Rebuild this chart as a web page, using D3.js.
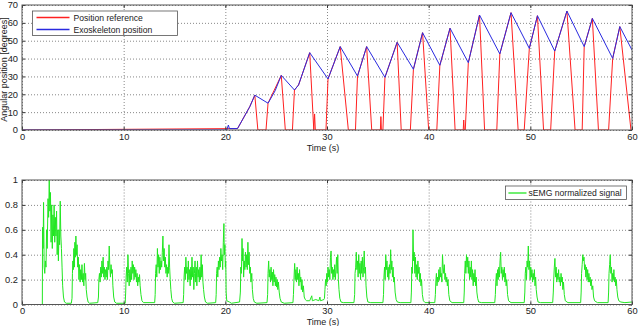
<!DOCTYPE html>
<html>
<head>
<meta charset="utf-8">
<script src="https://cdn.jsdelivr.net/npm/d3@7"></script>
<style>
  body { margin: 0; background: #fff; }
  text { font-family: "Liberation Sans", Arial, sans-serif; fill: #222; }
</style>
</head>
<body>
<svg id="chart" width="642" height="326"></svg>
<script>
// ---- data ----
const timeTicks = [0, 10, 20, 30, 40, 50, 60];
const angleTicks = [0, 10, 20, 30, 40, 50, 60, 70];
const emgTicks = [0, 0.2, 0.4, 0.6, 0.8, 1];

// position reference [time, degrees]
const refPosition = [[0,0],[21.2,0.8],[22.4,13],[22.9,19.5],[23.2,0],[24.0,0],[24.2,15],[25.5,30.6],[25.9,0],[26.6,0],[26.8,22.4],
  [27.2,25.2],[28.3,43.3],[28.7,0],[28.78,9],[28.85,0],[29.9,0],[30.1,28.6],[31.3,46.7],[32.1,0],[32.8,0],[33.0,30.2],[33.9,46.7],
  [34.4,0],[35.25,0],[35.3,7.5],[35.35,0],[35.5,0],[35.7,29.5],[36.9,49.1],[37.3,0],[38.2,0],[38.5,34],[39.4,54.5],[40.0,0],
  [40.8,0],[41.1,36.2],[42.1,57],[42.6,0],[43.4,0],[43.45,5.6],[43.5,0],[43.6,0],[43.9,37.7],[45.0,64.4],[45.5,0],[46.7,0],
  [47.0,42.6],[48.1,65.7],[48.8,0],[49.4,0],[49.9,45.7],[50.7,64],[51.3,0],[52.0,0],[52.4,44.2],[53.6,66.6],[54.4,0],[55.1,0],
  [55.3,46.7],[56.1,62.5],[56.7,0],[57.7,0],[58.1,40.1],[58.8,57.9],[59.9,0],[60,0]];

// exoskeleton position [time, degrees]
const exoPosition = [[0,0],[20.15,0],[20.3,2.8],[20.4,0.8],[21.2,0.8],[22.4,13],[22.9,19.5],[24.2,15],[24.9,22],[25.5,30.6],
  [26.8,22.4],[27.2,25.2],[28.3,43.3],[30.1,28.6],[31.3,46.7],[33.0,30.2],[33.9,46.7],[35.7,29.5],[36.9,49.1],[38.5,34],
  [39.4,54.5],[41.1,36.2],[42.1,57],[43.9,37.7],[45.0,64.4],[47.0,42.6],[48.1,65.7],[49.9,45.7],[50.7,64],[52.4,44.2],
  [53.6,66.6],[55.3,46.7],[56.1,62.5],[58.1,40.1],[58.8,57.9],[60,44.8]];

// sEMG normalized signal [time, value]
const emgSignal = [[0,0],[2.0,0],
  [2.02,0.62],[2.08,0.45],[2.12,0.82],[2.18,0.3],[2.24,0.25],[2.3,0.35],[2.36,0.3],[2.42,0.6],[2.48,0.45],[2.56,0.85],[2.62,0.7],
  [2.68,1.0],[2.74,0.75],[2.8,0.9],[2.86,0.5],[2.92,0.8],[2.98,0.45],[3.04,0.72],[3.1,0.55],[3.16,0.8],[3.22,0.5],[3.28,0.7],
  [3.34,0.55],[3.4,0.75],[3.46,0.4],[3.52,0.6],[3.58,0.35],[3.64,0.6],[3.7,0.48],[3.76,0.83],[3.82,0.55],[3.88,0.45],[3.94,0.3],
  [4.0,0.15],[4.08,0.06],[4.18,0.02],[4.35,0.01],
  [4.85,0.01],[4.92,0.05],[4.96,0.25],[5.0,0.35],[5.05,0.28],[5.1,0.45],[5.15,0.3],[5.2,0.5],[5.25,0.38],[5.3,0.55],[5.36,0.4],
  [5.42,0.48],[5.48,0.3],[5.54,0.38],[5.6,0.2],[5.66,0.32],[5.72,0.18],[5.78,0.28],[5.84,0.2],[5.9,0.32],[5.96,0.18],[6.02,0.25],
  [6.08,0.15],[6.14,0.33],[6.2,0.2],[6.26,0.25],[6.32,0.12],[6.4,0.06],[6.5,0.02],[6.65,0.01],
  [7.45,0.015],[7.52,0.06],[7.56,0.2],[7.62,0.25],[7.68,0.18],[7.74,0.3],[7.8,0.22],[7.86,0.35],[7.92,0.25],[7.98,0.38],[8.04,0.22],
  [8.1,0.3],[8.16,0.2],[8.22,0.28],[8.28,0.22],[8.34,0.3],[8.4,0.2],[8.46,0.35],[8.52,0.28],[8.58,0.47],[8.64,0.3],[8.7,0.22],
  [8.76,0.32],[8.82,0.25],[8.88,0.28],[8.94,0.15],[9.02,0.06],[9.12,0.02],[9.3,0.01],
  [10.15,0.01],[10.2,0.1],[10.24,0.22],[10.3,0.3],[10.36,0.18],[10.42,0.4],[10.48,0.25],[10.54,0.15],[10.6,0.28],[10.66,0.18],
  [10.72,0.3],[10.78,0.2],[10.84,0.35],[10.9,0.25],[10.96,0.32],[11.02,0.2],[11.08,0.3],[11.14,0.22],[11.2,0.28],[11.26,0.18],
  [11.32,0.25],[11.38,0.15],[11.44,0.22],[11.5,0.18],[11.56,0.24],[11.62,0.15],[11.7,0.08],[11.8,0.03],[11.95,0.015],
  [13.05,0.015],[13.1,0.08],[13.14,0.25],[13.2,0.32],[13.26,0.22],[13.32,0.45],[13.38,0.3],[13.44,0.4],[13.5,0.25],[13.56,0.38],
  [13.62,0.28],[13.68,0.35],[13.74,0.3],[13.8,0.42],[13.86,0.55],[13.92,0.35],[13.98,0.45],[14.04,0.3],[14.1,0.38],[14.16,0.25],
  [14.22,0.32],[14.28,0.22],[14.34,0.3],[14.4,0.25],[14.46,0.48],[14.52,0.3],[14.58,0.2],[14.64,0.12],[14.72,0.05],[14.82,0.02],[15.0,0.01],
  [15.85,0.015],[15.9,0.08],[15.94,0.22],[16.0,0.3],[16.06,0.2],[16.12,0.38],[16.18,0.25],[16.24,0.3],[16.3,0.18],[16.36,0.35],
  [16.42,0.2],[16.48,0.28],[16.54,0.15],[16.6,0.3],[16.66,0.2],[16.72,0.38],[16.78,0.22],[16.84,0.3],[16.9,0.12],[16.96,0.25],
  [17.02,0.35],[17.08,0.18],[17.14,0.3],[17.2,0.15],[17.26,0.35],[17.32,0.22],[17.38,0.28],[17.44,0.18],[17.5,0.3],[17.56,0.2],
  [17.62,0.4],[17.68,0.22],[17.74,0.32],[17.8,0.18],[17.86,0.12],[17.94,0.06],[18.05,0.02],[18.25,0.01],
  [19.05,0.015],[19.1,0.08],[19.14,0.25],[19.2,0.3],[19.26,0.22],[19.32,0.35],[19.38,0.28],[19.44,0.38],[19.5,0.3],[19.56,0.45],
  [19.62,0.35],[19.68,0.4],[19.74,0.28],[19.8,0.5],[19.86,0.65],[19.9,0.4],[19.96,0.48],[20.0,0.3],[20.04,0.35],[20.08,0.1],
  [20.14,0.03],[20.4,0.02],[20.6,0.01],
  [21.4,0.02],[21.48,0.1],[21.52,0.3],[21.58,0.25],[21.64,0.53],[21.7,0.35],[21.74,0.45],[21.8,0.22],[21.86,0.35],[21.92,0.28],
  [21.98,0.42],[22.04,0.3],[22.1,0.4],[22.16,0.28],[22.22,0.5],[22.28,0.32],[22.34,0.42],[22.4,0.25],[22.46,0.3],[22.52,0.18],
  [22.6,0.25],[22.66,0.12],[22.74,0.05],[22.85,0.02],[23.1,0.01],
  [24.1,0.015],[24.16,0.08],[24.2,0.25],[24.26,0.35],[24.32,0.22],[24.38,0.28],[24.44,0.18],[24.5,0.3],[24.56,0.2],[24.62,0.26],
  [24.68,0.15],[24.74,0.28],[24.8,0.18],[24.86,0.24],[24.92,0.15],[24.98,0.22],[25.04,0.14],[25.1,0.2],[25.16,0.12],[25.22,0.18],
  [25.3,0.1],[25.38,0.05],[25.5,0.02],[25.8,0.01],
  [26.65,0.015],[26.7,0.08],[26.76,0.22],[26.82,0.33],[26.88,0.2],[26.94,0.28],[27.0,0.18],[27.06,0.3],[27.12,0.2],[27.18,0.25],
  [27.24,0.15],[27.3,0.28],[27.36,0.18],[27.42,0.22],[27.48,0.12],[27.54,0.2],[27.6,0.1],[27.68,0.15],[27.76,0.06],[27.86,0.04],
  [28.0,0.03],[28.3,0.03],[28.5,0.07],[28.56,0.03],[28.9,0.04],[29.2,0.03],[29.3,0.06],[29.36,0.03],[29.7,0.04],
  [29.75,0.05],[29.8,0.12],[29.86,0.2],[29.92,0.15],[29.98,0.25],[30.04,0.18],[30.1,0.3],[30.16,0.22],[30.22,0.28],[30.28,0.2],
  [30.34,0.38],[30.4,0.43],[30.46,0.25],[30.52,0.3],[30.58,0.2],[30.64,0.28],[30.7,0.22],[30.76,0.32],[30.82,0.2],[30.88,0.28],
  [30.94,0.38],[31.0,0.25],[31.06,0.4],[31.12,0.2],[31.18,0.12],[31.26,0.05],[31.38,0.02],[31.6,0.015],
  [32.65,0.015],[32.72,0.08],[32.76,0.25],[32.82,0.3],[32.88,0.42],[32.94,0.28],[33.0,0.35],[33.06,0.22],[33.12,0.4],[33.18,0.25],
  [33.24,0.33],[33.3,0.2],[33.36,0.35],[33.42,0.25],[33.48,0.38],[33.54,0.22],[33.6,0.3],[33.66,0.43],[33.72,0.25],[33.78,0.3],
  [33.84,0.15],[33.92,0.06],[34.02,0.02],[34.3,0.015],
  [35.5,0.015],[35.56,0.08],[35.6,0.22],[35.66,0.3],[35.72,0.2],[35.78,0.4],[35.84,0.28],[35.9,0.35],[35.96,0.22],[36.02,0.3],
  [36.08,0.2],[36.14,0.32],[36.2,0.25],[36.26,0.44],[36.32,0.28],[36.38,0.35],[36.44,0.22],[36.5,0.3],[36.56,0.18],[36.62,0.22],
  [36.7,0.1],[36.8,0.04],[36.92,0.02],[37.2,0.015],
  [38.25,0.015],[38.3,0.1],[38.34,0.3],[38.4,0.25],[38.46,0.6],[38.52,0.35],[38.58,0.42],[38.64,0.25],[38.7,0.38],[38.76,0.22],
  [38.82,0.32],[38.88,0.2],[38.94,0.35],[39.0,0.25],[39.06,0.3],[39.12,0.18],[39.18,0.25],[39.24,0.15],[39.3,0.2],[39.38,0.08],
  [39.48,0.03],[39.65,0.015],
  [40.6,0.015],[40.66,0.08],[40.7,0.18],[40.76,0.25],[40.82,0.15],[40.88,0.22],[40.94,0.18],[41.0,0.28],[41.06,0.2],[41.12,0.3],
  [41.18,0.22],[41.24,0.25],[41.3,0.18],[41.36,0.4],[41.42,0.3],[41.48,0.25],[41.54,0.32],[41.6,0.2],[41.66,0.25],[41.72,0.18],
  [41.78,0.22],[41.84,0.15],[41.9,0.2],[41.98,0.08],[42.08,0.03],[42.3,0.015],
  [43.45,0.015],[43.5,0.1],[43.54,0.25],[43.6,0.35],[43.66,0.25],[43.72,0.4],[43.78,0.3],[43.84,0.38],[43.9,0.25],[43.96,0.35],
  [44.02,0.2],[44.08,0.3],[44.14,0.22],[44.2,0.35],[44.26,0.2],[44.32,0.28],[44.38,0.15],[44.44,0.25],[44.5,0.18],[44.56,0.28],
  [44.62,0.15],[44.68,0.22],[44.74,0.1],[44.82,0.05],[44.92,0.02],[45.2,0.015],
  [46.5,0.015],[46.56,0.08],[46.6,0.18],[46.66,0.25],[46.72,0.15],[46.78,0.28],[46.84,0.2],[46.9,0.3],[46.96,0.22],[47.02,0.35],
  [47.08,0.42],[47.14,0.25],[47.2,0.3],[47.26,0.2],[47.32,0.28],[47.38,0.22],[47.44,0.3],[47.5,0.18],[47.56,0.25],[47.62,0.15],
  [47.68,0.2],[47.76,0.08],[47.86,0.03],[48.1,0.015],
  [49.4,0.015],[49.46,0.1],[49.5,0.25],[49.56,0.3],[49.62,0.2],[49.68,0.35],[49.74,0.3],[49.8,0.47],[49.86,0.28],[49.92,0.35],
  [49.98,0.2],[50.04,0.3],[50.1,0.22],[50.16,0.28],[50.22,0.18],[50.28,0.25],[50.34,0.2],[50.4,0.28],[50.46,0.15],[50.52,0.22],
  [50.58,0.12],[50.66,0.06],[50.76,0.02],[51.0,0.015],
  [52.2,0.015],[52.26,0.1],[52.3,0.2],[52.36,0.3],[52.42,0.37],[52.48,0.22],[52.54,0.3],[52.6,0.18],[52.66,0.25],[52.72,0.2],
  [52.78,0.28],[52.84,0.18],[52.9,0.22],[52.96,0.15],[53.02,0.25],[53.08,0.18],[53.14,0.22],[53.2,0.12],[53.26,0.18],[53.34,0.08],
  [53.44,0.03],[53.7,0.015],
  [54.95,0.015],[55.0,0.1],[55.04,0.25],[55.1,0.32],[55.16,0.4],[55.22,0.35],[55.28,0.38],[55.34,0.28],[55.4,0.32],[55.46,0.22],
  [55.52,0.3],[55.58,0.2],[55.64,0.28],[55.7,0.18],[55.76,0.25],[55.82,0.18],[55.88,0.22],[55.94,0.15],[56.0,0.2],[56.06,0.12],
  [56.14,0.15],[56.22,0.06],[56.32,0.03],[56.6,0.015],
  [57.65,0.015],[57.7,0.1],[57.74,0.25],[57.8,0.32],[57.86,0.4],[57.92,0.25],[57.98,0.3],[58.04,0.18],[58.1,0.25],[58.16,0.2],
  [58.22,0.28],[58.28,0.18],[58.34,0.22],[58.4,0.15],[58.46,0.2],[58.52,0.12],[58.6,0.06],[58.7,0.03],[58.9,0.02],[59.3,0.015],[60,0.02]];

const topLegend = ["Position reference", "Exoskeleton position"];
const bottomLegend = ["sEMG normalized signal"];

function MakePanel(svg, opts) {
    const g = svg.append("g").attr("transform", `translate(${opts.left},${opts.top})`);
    const plotW = opts.width, plotH = opts.height;

    const xScale = d3.scaleLinear().domain([0, 60]).range([0, plotW]);
    const yScale = d3.scaleLinear().domain(opts.yDomain).range([plotH, 0]);

    g.append("rect").attr("width", plotW).attr("height", plotH).attr("fill", "#fff");

    // grid (dotted, matlab style)
    g.append("g").attr("transform", `translate(0,${plotH})`)
        .call(d3.axisBottom(xScale).tickValues(opts.xTicks).tickSize(-plotH).tickFormat(""))
        .call(a => a.select(".domain").remove())
        .selectAll("line").attr("stroke", "#888").attr("stroke-dasharray", "1,2");
    g.append("g")
        .call(d3.axisLeft(yScale).tickValues(opts.yTicks).tickSize(-plotW).tickFormat(""))
        .call(a => a.select(".domain").remove())
        .selectAll("line").attr("stroke", "#888").attr("stroke-dasharray", "1,2");

    // clip
    g.append("defs").append("clipPath").attr("id", opts.id + "_clip")
        .append("rect").attr("width", plotW).attr("height", plotH);

    const line = d3.line()
        .x(d => xScale(d[0]))
        .y(d => yScale(d[1]));

    opts.series.forEach(s => {
        g.append("path").datum(s.data)
            .attr("clip-path", `url(#${opts.id}_clip)`)
            .attr("fill", "none")
            .attr("stroke", s.color)
            .attr("stroke-width", 1)
            .attr("stroke-linejoin", "round")
            .attr("d", line);
    });

    // axes with inward ticks
    const xAxis = g.append("g").attr("transform", `translate(0,${plotH})`)
        .call(d3.axisBottom(xScale).tickValues(opts.xTicks).tickSize(-3).tickPadding(3).tickFormat(d3.format("d")));
    const yAxis = g.append("g")
        .call(d3.axisLeft(yScale).tickValues(opts.yTicks).tickSize(-3).tickPadding(4).tickFormat(opts.yFormat));
    [xAxis, yAxis].forEach(a => {
        a.select(".domain").remove();
        a.selectAll("line").attr("stroke", "#333");
        a.selectAll("text").attr("font-size", 9.3).attr("fill", "#222")
            .style("font-family", "'Liberation Sans', Arial, sans-serif");
    });
    g.append("g").attr("transform", `translate(${plotW},0)`)
        .call(d3.axisRight(yScale).tickValues(opts.yTicks).tickSize(-3).tickFormat(""))
        .call(a => a.select(".domain").remove())
        .selectAll("line").attr("stroke", "#333");
    g.append("g")
        .call(d3.axisTop(xScale).tickValues(opts.xTicks).tickSize(-3).tickFormat(""))
        .call(a => a.select(".domain").remove())
        .selectAll("line").attr("stroke", "#333");

    // box
    g.append("rect").attr("width", plotW).attr("height", plotH)
        .attr("fill", "none").attr("stroke", "#555").attr("stroke-width", 1);

    // x label
    g.append("text")
        .attr("x", plotW / 2 - 4)
        .attr("y", plotH + 20.5)
        .attr("text-anchor", "middle")
        .attr("font-size", 9)
        .text("Time (s)");

    if (opts.yLabel) {
        g.append("text")
            .attr("transform", `translate(-15,${plotH / 2 + 2}) rotate(-90)`)
            .attr("text-anchor", "middle")
            .attr("font-size", 9)
            .text(opts.yLabel);
    }

    // legend
    const lg = opts.legend;
    const legend = g.append("g").attr("transform", `translate(${lg.x},${lg.y})`);
    legend.append("rect")
        .attr("width", lg.w).attr("height", lg.h)
        .attr("fill", "#fff").attr("stroke", "#555").attr("stroke-width", 0.8);
    lg.items.forEach((name, i) => {
        const yy = lg.firstY + i * lg.step;
        legend.append("line")
            .attr("x1", lg.lineX0).attr("x2", lg.lineX1).attr("y1", yy).attr("y2", yy)
            .attr("stroke", opts.series[i].color).attr("stroke-width", 1.3);
        legend.append("text")
            .attr("x", lg.textX).attr("y", yy + 3.2)
            .attr("font-size", 8.6)
            .text(name);
    });
}

const svg = d3.select("#chart");

MakePanel(svg, {
    id: "pos", left: 22, top: 5, width: 610, height: 125,
    yDomain: [0, 70], xTicks: timeTicks, yTicks: angleTicks, yFormat: d3.format("d"),
    yLabel: "Angular position [degrees]",
    series: [{data: refPosition, color: "#ff2020"}, {data: exoPosition, color: "#2a2ae0"}],
    legend: {x: 10.5, y: 6, w: 145, h: 24.5, items: topLegend, firstY: 6.5, step: 12,
             lineX0: 4, lineX1: 37, textX: 41}
});

MakePanel(svg, {
    id: "emg", left: 22, top: 180, width: 610, height: 124.5,
    yDomain: [0, 1], xTicks: timeTicks, yTicks: emgTicks, yFormat: d => d3.format("")(d),
    yLabel: null,
    series: [{data: emgSignal, color: "#22e622"}],
    legend: {x: 483.5, y: 6, w: 121, h: 13.5, items: bottomLegend, firstY: 7, step: 12,
             lineX0: 3, lineX1: 21, textX: 23}
});
</script>
</body>
</html>
